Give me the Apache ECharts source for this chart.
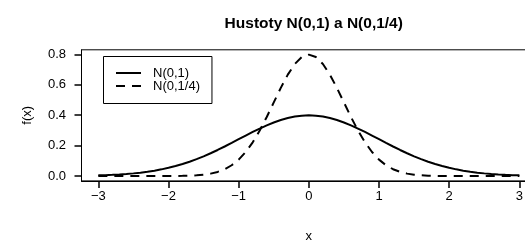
<!DOCTYPE html>
<html><head><meta charset="utf-8">
<script src="https://cdn.jsdelivr.net/npm/echarts@6/dist/echarts.min.js"></script>
<style>html,body{margin:0;padding:0;background:#fff;overflow:hidden}#c{width:545px;height:241px}</style>
</head><body><div id="c"></div>
<script>
var titleText = 'Hustoty N(0,1) a N(0,1/4)';
var seriesNames = ['N(0,1)', 'N(0,1/4)'];
var xTicks = [-3, -2, -1, 0, 1, 2, 3];
var yTicks = [0, 0.2, 0.4, 0.6, 0.8];
var xs = [-3.0,-2.9,-2.8,-2.7,-2.6,-2.5,-2.4,-2.3,-2.2,-2.1,-2.0,-1.9,-1.8,-1.7,-1.6,-1.5,-1.4,-1.3,-1.2,-1.1,-1.0,-0.9,-0.8,-0.7,-0.6,-0.5,-0.4,-0.3,-0.2,-0.1,0.0,0.1,0.2,0.3,0.4,0.5,0.6,0.7,0.8,0.9,1.0,1.1,1.2,1.3,1.4,1.5,1.6,1.7,1.8,1.9,2.0,2.1,2.2,2.3,2.4,2.5,2.6,2.7,2.8,2.9,3.0];
var yStd = [0.00443,0.00595,0.00792,0.01042,0.01358,0.01753,0.02239,0.02833,0.03547,0.04398,0.05399,0.06562,0.07895,0.09405,0.11092,0.12952,0.14973,0.17137,0.19419,0.21785,0.24197,0.26609,0.28969,0.31225,0.33322,0.35207,0.36827,0.38139,0.39104,0.39695,0.39894,0.39695,0.39104,0.38139,0.36827,0.35207,0.33322,0.31225,0.28969,0.26609,0.24197,0.21785,0.19419,0.17137,0.14973,0.12952,0.11092,0.09405,0.07895,0.06562,0.05399,0.04398,0.03547,0.02833,0.02239,0.01753,0.01358,0.01042,0.00792,0.00595,0.00443];
var yQuarter = [0,0,0,0,0,0,0.00001,0.00002,0.00005,0.00012,0.00027,0.00058,0.00122,0.00246,0.00477,0.00886,0.01584,0.02717,0.04479,0.07094,0.10798,0.15790,0.22184,0.29945,0.38837,0.48394,0.57938,0.66645,0.73654,0.78209,0.79788,0.78209,0.73654,0.66645,0.57938,0.48394,0.38837,0.29945,0.22184,0.15790,0.10798,0.07094,0.04479,0.02717,0.01584,0.00886,0.00477,0.00246,0.00122,0.00058,0.00027,0.00012,0.00005,0.00002,0.00001,0,0,0,0,0,0];

function pairs(ys){ return xs.map(function(x,i){ return [x, ys[i]]; }); }
var FONT = 'Liberation Sans, Arial, Helvetica, sans-serif';
var chart = echarts.init(document.getElementById('c'), null, {renderer:'canvas'});
chart.setOption({
  animation:false,
  backgroundColor:'#fff',
  title:{text:titleText,left:308.75,textAlign:'center',top:11,
    textStyle:{fontFamily:FONT,fontSize:15.5,fontWeight:'bold',color:'#000'}},
  legend:{orient:'vertical',left:103.5,top:56.5,
    borderColor:'#000',borderWidth:1,padding:[10,12,11,11.5],
    itemWidth:25,itemHeight:13,itemGap:0,
    data:seriesNames,
    itemStyle:{opacity:0},
    textStyle:{fontFamily:FONT,fontSize:13,color:'#000',padding:[0,0,0,7]}},
  grid:{left:81.5,top:49.8,width:454.7,height:131.1,show:true,borderColor:'#000',borderWidth:1,
    containLabel:false,outerBoundsMode:'none'},
  xAxis:{type:'value',min:-3.24,max:3.24,position:'bottom',
    name:'x',nameLocation:'middle',nameGap:49,
    nameTextStyle:{fontFamily:FONT,fontSize:13,color:'#000'},
    axisLine:{show:true,onZero:false,lineStyle:{color:'#000',width:1}},splitLine:{show:false},
    axisTick:{show:true,length:7,customValues:xTicks,lineStyle:{color:'#000',width:1.5}},
    axisLabel:{customValues:xTicks,margin:9,fontFamily:FONT,fontSize:13,color:'#000',
      formatter:function(v){return v<0?'\u2212'+(-v):String(v);}}},
  yAxis:{type:'value',min:-0.03192,max:0.8298,position:'left',
    name:'f(x)',nameLocation:'middle',nameGap:48,nameRotate:90,
    nameTextStyle:{fontFamily:FONT,fontSize:13,color:'#000'},
    axisLine:{show:true,onZero:false,lineStyle:{color:'#000',width:1}},splitLine:{show:false},
    axisTick:{show:true,length:7,customValues:yTicks,lineStyle:{color:'#000',width:1.5}},
    axisLabel:{customValues:yTicks,margin:15.5,fontFamily:FONT,fontSize:13,color:'#000',
      formatter:function(v){return v.toFixed(1);}}},
  series:[
    {name:seriesNames[0],type:'line',data:pairs(yStd),symbol:'none',smooth:false,
      lineStyle:{color:'#000',width:2,type:'solid'},itemStyle:{color:'#000'}},
    {name:seriesNames[1],type:'line',data:pairs(yQuarter),symbol:'none',smooth:false,
      lineStyle:{color:'#000',width:2,type:[9,7]},itemStyle:{color:'#000'}}
  ]
});
</script></body></html>
